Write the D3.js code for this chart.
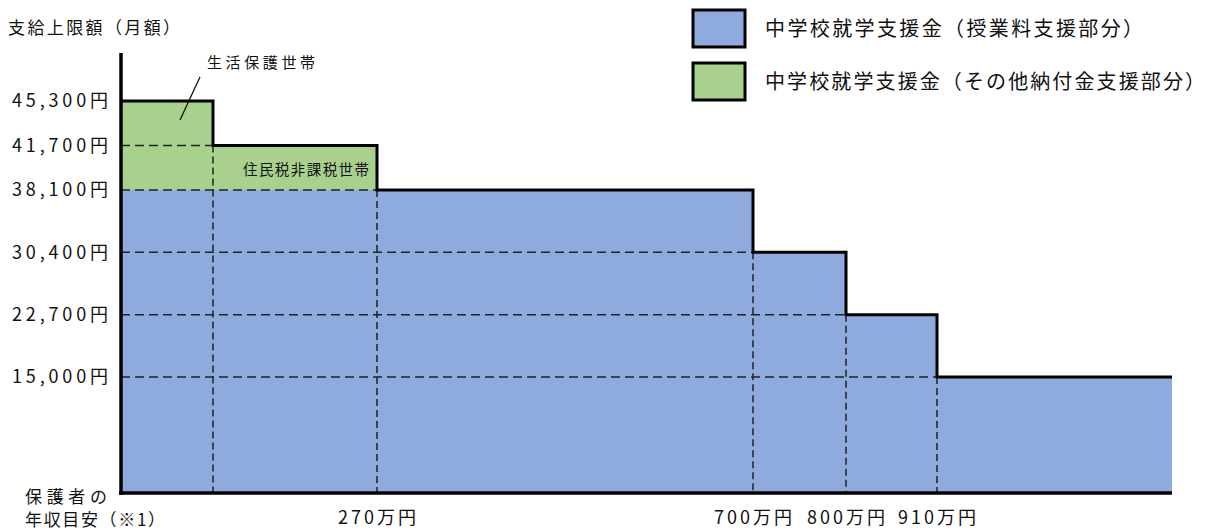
<!DOCTYPE html>
<html>
<head>
<meta charset="utf-8">
<script src="https://cdn.jsdelivr.net/npm/d3@7"></script>
<style>
  body { margin: 0; background: #fff; }
  svg { display: block; font-family: "Noto Sans CJK JP", "Noto Sans", sans-serif; }
</style>
</head>
<body>
<svg id="chart" width="1214" height="531"></svg>
<script>
// income edges (万円). 100 is only a schematic boundary for 生活保護世帯, 1150 the open end
const incomeEdges = [0, 100, 270, 700, 800, 910, 1150];
// monthly limits per income segment
const totalLimit   = [45300, 41700, 38100, 30400, 22700, 15000];
const tuitionLimit = [38100, 38100, 38100, 30400, 22700, 15000];
const yTicks = [45300, 41700, 38100, 30400, 22700, 15000];
const xTicks = [270, 700, 800, 910];
const legendLabels = ['中学校就学支援金（授業料支援部分）', '中学校就学支援金（その他納付金支援部分）'];

const blue = '#8faadc';
const green = '#a9d18e';

const svg = d3.select('#chart');

// the picture is schematic, so both scales are piecewise
const x = d3.scaleLinear()
    .domain(incomeEdges)
    .range([121, 213, 377, 753, 846, 937, 1172]);
const y = d3.scaleLinear()
    .domain([0, 15000, 38100, 45300])
    .range([493, 377, 190, 101]);

const segs = totalLimit.map((t, i) => ({
    from: incomeEdges[i], to: incomeEdges[i + 1], total: t, tuition: tuitionLimit[i]
}));

// Fills
svg.append('g').selectAll('rect')
    .data(segs)
    .enter().append('rect')
    .attr('x', d => x(d.from))
    .attr('width', d => x(d.to) - x(d.from))
    .attr('y', d => y(d.tuition))
    .attr('height', d => y(0) - y(d.tuition))
    .attr('fill', blue);

svg.append('g').selectAll('rect')
    .data(segs.filter(d => d.total > d.tuition))
    .enter().append('rect')
    .attr('x', d => x(d.from))
    .attr('width', d => x(d.to) - x(d.from))
    .attr('y', d => y(d.total))
    .attr('height', d => y(d.tuition) - y(d.total))
    .attr('fill', green);

// Dashed guides
const guides = svg.append('g')
    .attr('stroke', '#222')
    .attr('stroke-width', 1.5)
    .attr('stroke-dasharray', '9,5');
segs.slice(1).forEach(d => {
    guides.append('line')
        .attr('x1', x(0)).attr('x2', x(d.from))
        .attr('y1', y(d.total)).attr('y2', y(d.total));
    guides.append('line')
        .attr('x1', x(d.from)).attr('x2', x(d.from))
        .attr('y1', y(d.total)).attr('y2', y(0))
        .attr('stroke-dasharray', '7,4');
});

// Step outline
const pts = segs.map(d => [d.from, d.total]);
pts.push([segs[segs.length - 1].to, segs[segs.length - 1].total]);
svg.append('path')
    .attr('d', d3.line().x(d => x(d[0])).y(d => y(d[1])).curve(d3.curveStepAfter)(pts))
    .attr('fill', 'none')
    .attr('stroke', '#000')
    .attr('stroke-width', 3);

// Axes
svg.append('line')
    .attr('x1', x(0)).attr('x2', x(0))
    .attr('y1', 53).attr('y2', y(0) + 2)
    .attr('stroke', '#000').attr('stroke-width', 3.5);
svg.append('line')
    .attr('x1', x(0) - 2).attr('x2', x(1150))
    .attr('y1', y(0)).attr('y2', y(0))
    .attr('stroke', '#000').attr('stroke-width', 3.5);

// Y tick labels
const fmt = d3.format(',');
svg.append('g').selectAll('text')
    .data(yTicks)
    .enter().append('text')
    .attr('x', 108)
    .attr('y', d => y(d))
    .attr('dy', '0.36em')
    .attr('text-anchor', 'end')
    .attr('font-size', 18)
    .attr('textLength', 96)
    .attr('fill', '#111')
    .text(d => fmt(d) + '円');

// X tick labels
svg.append('g').selectAll('text')
    .data(xTicks)
    .enter().append('text')
    .attr('x', d => x(d))
    .attr('y', 524)
    .attr('text-anchor', 'middle')
    .attr('font-size', 18)
    .attr('textLength', 78)
    .attr('fill', '#111')
    .text(d => d + '万円');

// Axis titles
svg.append('text')
    .attr('x', 8).attr('y', 34)
    .attr('font-size', 17)
    .attr('textLength', 172)
    .attr('fill', '#111')
    .text('支給上限額（月額）');
svg.append('text')
    .attr('x', 25).attr('y', 503)
    .attr('font-size', 17)
    .attr('textLength', 82)
    .attr('fill', '#111')
    .text('保護者の');
svg.append('text')
    .attr('x', 25).attr('y', 526)
    .attr('font-size', 17)
    .attr('textLength', 140)
    .attr('fill', '#111')
    .text('年収目安（※1）');

// Annotations
svg.append('text')
    .attr('x', 207).attr('y', 68)
    .attr('font-size', 15)
    .attr('textLength', 108)
    .attr('fill', '#111')
    .text('生活保護世帯');
svg.append('line')
    .attr('x1', 200).attr('y1', 77)
    .attr('x2', 180).attr('y2', 120)
    .attr('stroke', '#111').attr('stroke-width', 1.3);
svg.append('text')
    .attr('x', 243).attr('y', 175)
    .attr('font-size', 14.5)
    .attr('textLength', 126)
    .attr('fill', '#111')
    .text('住民税非課税世帯');

// Legend
const legend = svg.append('g').selectAll('g')
    .data(legendLabels)
    .enter().append('g')
    .attr('transform', (d, i) => `translate(693, ${10 + i * 53})`);
legend.append('rect')
    .attr('width', 52).attr('height', 37)
    .attr('fill', (d, i) => i === 0 ? blue : green)
    .attr('stroke', '#000').attr('stroke-width', 3);
legend.append('text')
    .attr('x', 72).attr('y', 19)
    .attr('dy', '0.36em')
    .attr('font-size', 20)
    .attr('textLength', (d, i) => i === 0 ? 378 : 440)
    .attr('fill', '#111')
    .text(d => d);
</script>
</body>
</html>
